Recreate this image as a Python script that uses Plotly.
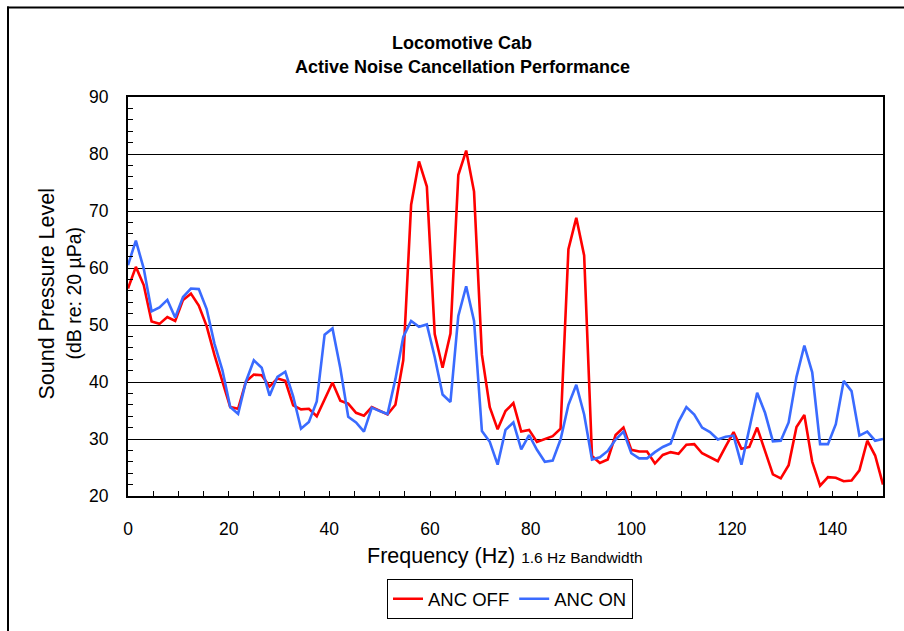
import plotly.graph_objects as go

freq_hz = [0, 1.5625, 3.125, 4.6875, 6.25, 7.8125, 9.375, 10.9375, 12.5, 14.0625,
           15.625, 17.1875, 18.75, 20.3125, 21.875, 23.4375, 25, 26.5625, 28.125, 29.6875,
           31.25, 32.8125, 34.375, 35.9375, 37.5, 39.0625, 40.625, 42.1875, 43.75, 45.3125,
           46.875, 48.4375, 50, 51.5625, 53.125, 54.6875, 56.25, 57.8125, 59.375, 60.9375,
           62.5, 64.0625, 65.625, 67.1875, 68.75, 70.3125, 71.875, 73.4375, 75, 76.5625,
           78.125, 79.6875, 81.25, 82.8125, 84.375, 85.9375, 87.5, 89.0625, 90.625, 92.1875,
           93.75, 95.3125, 96.875, 98.4375, 100, 101.5625, 103.125, 104.6875, 106.25, 107.8125,
           109.375, 110.9375, 112.5, 114.0625, 115.625, 117.1875, 118.75, 120.3125, 121.875, 123.4375,
           125, 126.5625, 128.125, 129.6875, 131.25, 132.8125, 134.375, 135.9375, 137.5, 139.0625,
           140.625, 142.1875, 143.75, 145.3125, 146.875, 148.4375, 150]

anc_off = [56.4, 60.2, 57.0, 50.6, 50.2, 51.4, 50.7, 54.4, 55.5, 53.4,
           49.8, 44.7, 40.1, 35.6, 35.3, 40.1, 41.3, 41.2, 39.2, 40.6,
           40.2, 35.9, 35.2, 35.3, 34.0, 37.0, 39.9, 36.7, 36.2, 34.6,
           34.1, 35.6, 35.0, 34.3, 36.0, 43.8, 71.1, 78.7, 74.3, 48.4,
           42.5, 48.5, 76.3, 80.6, 73.4, 44.8, 35.6, 31.7, 34.9, 36.3,
           31.3, 31.6, 29.5, 30.0, 30.5, 31.8, 63.3, 68.8, 62.2, 27.0,
           25.8, 26.4, 30.7, 32.0, 28.1, 27.8, 27.8, 25.7, 27.2, 27.7,
           27.4, 29.0, 29.1, 27.5, 26.8, 26.1, 28.7, 31.2, 28.3, 28.6,
           32.0, 28.0, 23.8, 23.1, 25.4, 32.1, 34.2, 26.0, 21.8, 23.3,
           23.2, 22.6, 22.7, 24.5, 29.7, 27.1, 22.0]

anc_on = [60.5, 64.8, 59.9, 52.4, 53.1, 54.4, 51.3, 54.9, 56.4, 56.3,
          52.8, 46.7, 42.1, 35.6, 34.4, 40.1, 43.8, 42.5, 37.6, 40.9,
          41.8, 37.5, 31.8, 33.0, 36.6, 48.3, 49.4, 42.4, 33.9, 32.9,
          31.3, 35.5, 34.9, 34.4, 40.5, 47.9, 50.7, 49.7, 50.1, 44.4,
          37.8, 36.5, 51.6, 56.8, 50.7, 31.4, 29.5, 25.5, 31.6, 32.9,
          28.2, 30.7, 28.1, 26.0, 26.2, 29.9, 36.0, 39.5, 34.3, 26.4,
          26.8, 27.9, 29.9, 31.3, 27.5, 26.6, 26.6, 27.7, 28.6, 29.2,
          33.0, 35.6, 34.3, 32.0, 31.2, 29.9, 30.4, 30.6, 25.5, 31.7,
          38.1, 34.6, 29.6, 29.7, 32.9, 40.9, 46.4, 41.7, 29.1, 29.1,
          32.6, 40.2, 38.4, 30.6, 31.3, 29.7, 30.0]

x_ticks = [0, 20, 40, 60, 80, 100, 120, 140]
y_ticks = [20, 30, 40, 50, 60, 70, 80, 90]

FONT = "Liberation Sans, Arial, sans-serif"

fig = go.Figure()
fig.add_trace(go.Scatter(x=freq_hz, y=anc_off, mode="lines", name="ANC OFF",
                         line=dict(color="#FF0000", width=2.6)))
fig.add_trace(go.Scatter(x=freq_hz, y=anc_on, mode="lines", name="ANC ON",
                         line=dict(color="#3A6BFF", width=2.6)))

L, R, T, B = 128, 21, 97, 128
W, H = 904, 631
pw, ph = W - L - R, H - T - B


def px(x):
    return (x - L) / pw


def py(y):
    return (H - B - y) / ph


fig.update_layout(
    width=W, height=H,
    margin=dict(l=L, r=R, t=T, b=B),
    paper_bgcolor="white", plot_bgcolor="white",
    font=dict(family=FONT, color="black", size=17.5),
    showlegend=True,
    legend=dict(orientation="h", x=px(510), y=py(608), xanchor="center", yanchor="middle",
                bordercolor="black", borderwidth=1, font=dict(size=18.5, family=FONT),
                bgcolor="white", itemwidth=30, tracegroupgap=0),
    xaxis=dict(range=[0, 150], tickvals=x_ticks, ticks="inside", ticklen=5, tickcolor="black",
               showline=True, linecolor="black", linewidth=2, mirror=True,
               showgrid=False, zeroline=False, tickfont=dict(size=17.5),
               ticklabelstandoff=16,
               minor=dict(dtick=5, ticks="inside", ticklen=5, tickcolor="black", showgrid=False)),
    yaxis=dict(range=[20, 90], tickvals=y_ticks, ticks="inside", ticklen=5, tickcolor="black",
               showline=True, linecolor="black", linewidth=2, mirror=True,
               showgrid=True, gridcolor="black", gridwidth=1, zeroline=False,
               tickfont=dict(size=17.5), ticklabelstandoff=14,
               minor=dict(dtick=2, ticks="inside", ticklen=5, tickcolor="black", showgrid=False)),
)

ann = [
    dict(text="<b>Locomotive Cab</b>", x=px(462), y=py(42), size=18),
    dict(text="<b>Active Noise Cancellation Performance</b>", x=px(462), y=py(66), size=18),
    dict(text="Frequency (Hz) <span style='font-size:15.5px'>1.6 Hz Bandwidth</span>",
         x=px(505), y=py(564), size=21.5),
]
for a in ann:
    fig.add_annotation(text=a["text"], x=a["x"], y=a["y"], xref="paper", yref="paper",
                       xanchor="center", yanchor="middle", showarrow=False,
                       font=dict(size=a["size"], family=FONT, color="black"))

fig.add_annotation(text="Sound Pressure Level", x=px(47), y=py(297), xref="paper", yref="paper",
                   textangle=-90, showarrow=False, xanchor="center", yanchor="middle",
                   font=dict(size=21.5, family=FONT, color="black"))
fig.add_annotation(text="(dB re: 20 µPa)", x=px(74), y=py(297), xref="paper", yref="paper",
                   textangle=-90, showarrow=False, xanchor="center", yanchor="middle",
                   font=dict(size=19.5, family=FONT, color="black"))

# outer chart frame: only top and left edges are visible in the view
fig.add_shape(type="line", xref="paper", yref="paper",
              x0=px(7), x1=px(910), y0=py(6), y1=py(6),
              line=dict(color="black", width=2), layer="below")
fig.add_shape(type="line", xref="paper", yref="paper",
              x0=px(8), x1=px(8), y0=py(5), y1=py(700),
              line=dict(color="black", width=2), layer="below")

fig.write_html("out.html")
